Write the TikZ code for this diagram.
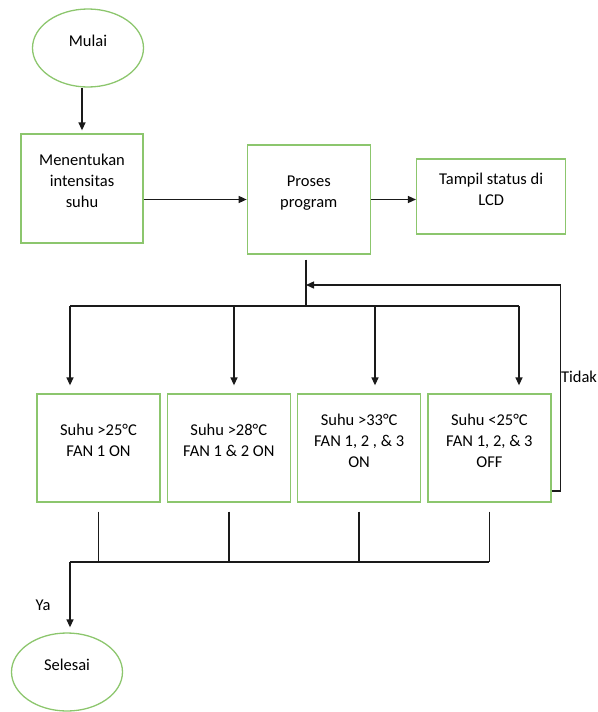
\documentclass[tikz,border=0pt]{standalone}
\usepackage{fontspec}
\setmainfont{Carlito}
\usepackage{tikz}
\usetikzlibrary{arrows.meta,positioning,shapes.geometric}
\definecolor{boxgreen}{HTML}{8CC66D}
\definecolor{wire}{HTML}{1A1A1A}

\begin{document}
\begin{tikzpicture}[x=1pt, y=-1pt,
  box/.style={draw=boxgreen, line width=1.3pt, minimum width=123pt,
              minimum height=108pt, align=center, text depth=15pt,
              font=\fontsize{16.5}{21}\selectfont},
  term/.style={box, ellipse, minimum width=111pt, minimum height=78pt},
  wire/.style={draw=wire, line width=1.4pt},
  arr/.style={wire, -{Triangle[length=8pt, width=7pt]}},
  lbl/.style={font=\fontsize{16.5}{21}\selectfont}
]
  \useasboundingbox (0,0) rectangle (597,712);

  \node[term] (mulai) at (88,48) {Mulai};
  \node[box, minimum width=122pt, minimum height=109pt] (tentukan) at (82,188.5) {Menentukan\\intensitas\\suhu};
  \node[box, minimum height=109pt, right=103pt of tentukan, yshift=-11pt] (proses) {Proses\\program};
  \node[box, minimum width=149pt, minimum height=75pt, right=45pt of proses, yshift=3pt] (tampil) {Tampil status di\\LCD};

  \node[box] (s1) at (98.5,448) {Suhu >25°C\\FAN 1 ON};
  \node[box, right=6pt of s1] (s2) {Suhu >28°C\\FAN 1 \& 2 ON};
  \node[box, right=6pt of s2] (s3) {Suhu >33°C\\FAN 1, 2 , \& 3\\ON};
  \node[box, right=6pt of s3] (s4) {Suhu <25°C\\FAN 1, 2, \& 3\\OFF};

  \node[term] (selesai) at (67,672) {Selesai};

  \draw[arr, shorten >=3pt] (mulai.south -| tentukan.north) -- (tentukan.north);
  \draw[arr] (tentukan.east |- proses) -- (proses);
  \draw[arr] (proses) -- (proses -| tampil.west);

  % percabangan ke empat kondisi
  \coordinate (fork) at (306,306);
  \coordinate (back) at (306,285);
  \coordinate (d1) at (70,306);
  \coordinate (d2) at (234,306);
  \coordinate (d3) at (375,306);
  \coordinate (d4) at (519,306);
  \draw[wire, shorten <=5pt] (proses.south -| fork) -- (fork);
  \draw[wire] (d1) -- (d4);
  \draw[arr, shorten >=8pt] (d1) -- (d1 |- s1.north);
  \draw[arr, shorten >=8pt] (d2) -- (d2 |- s2.north);
  \draw[arr, shorten >=8pt] (d3) -- (d3 |- s3.north);
  \draw[arr, shorten >=8pt] (d4) -- (d4 |- s4.north);

  % kembali ke proses
  \draw[arr] ([yshift=-43pt]s4.east) -- ++(9,0) |- (back);
  \node[lbl] (tidak) at (579,377) {Tidak};

  % ke selesai
  \coordinate (join) at (70,562);
  \draw[wire, shorten <=9pt] (s1.south) -- (s1.south |- join);
  \draw[wire, shorten <=9pt] (s2.south) -- (s2.south |- join);
  \draw[wire, shorten <=9pt] (s3.south) -- (s3.south |- join);
  \draw[wire, shorten <=9pt] (s4.south) -- (s4.south |- join);
  \draw[wire] (join) -- (s4.south |- join);
  \draw[arr, shorten >=5pt] (join) -- (join |- selesai.north);
  \node[lbl] (ya) at (43,605) {Ya};
\end{tikzpicture}
\end{document}
